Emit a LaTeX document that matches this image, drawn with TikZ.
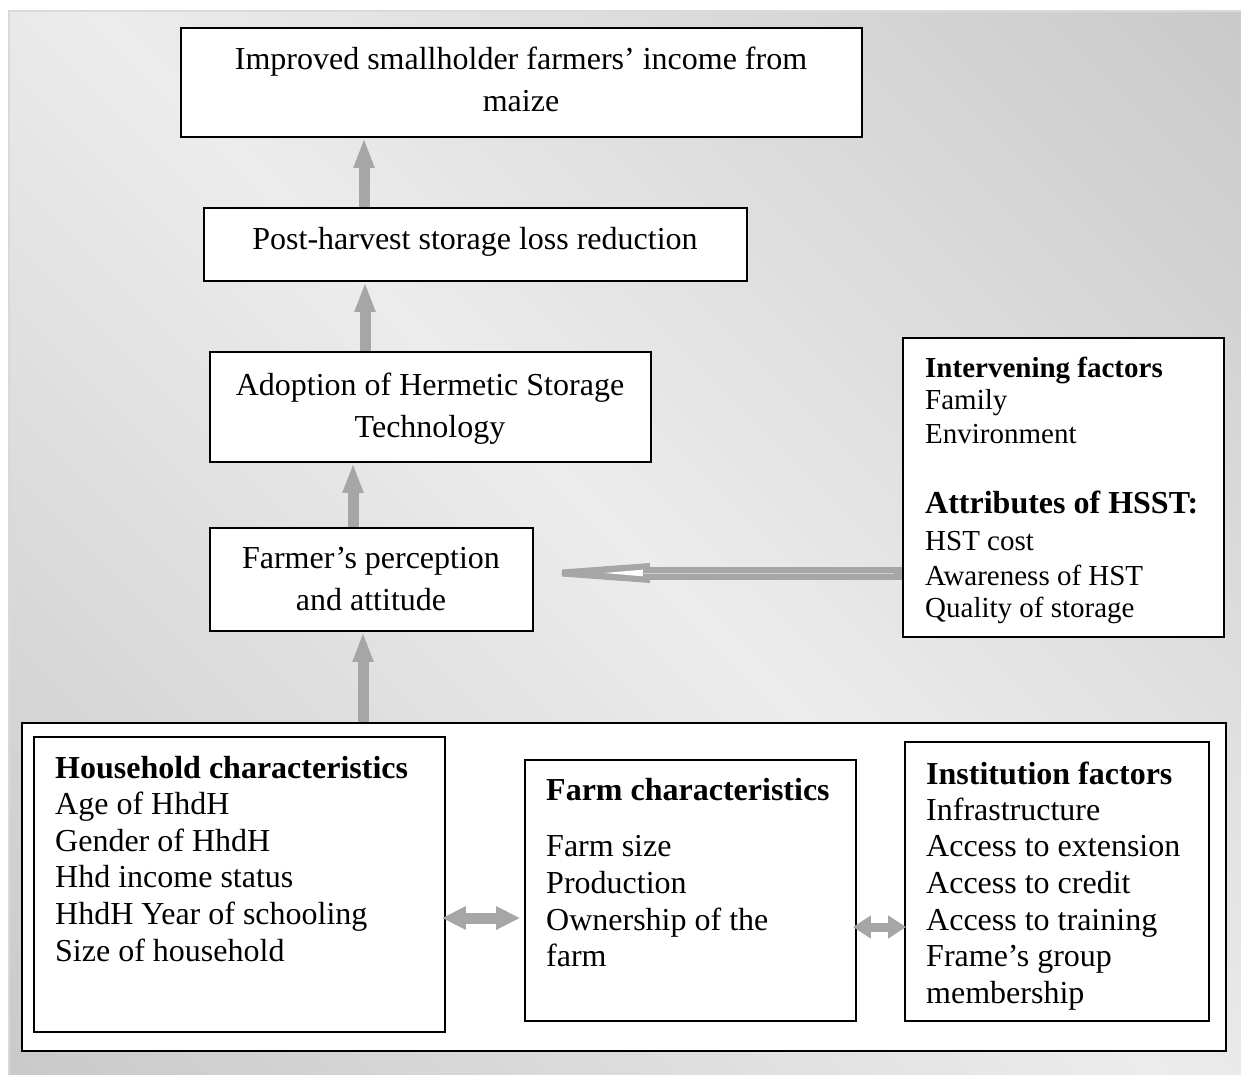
\documentclass[tikz,border=0pt]{standalone}
\usepackage{fontspec}
\setmainfont{Liberation Serif}
\usetikzlibrary{arrows.meta,calc}
\definecolor{bgdark}{HTML}{C9C9C9}
\definecolor{bglight}{HTML}{ECECEC}
\definecolor{arr}{HTML}{A6A6A6}
\pgfdeclarehorizontalshading{bgsh}{100bp}{color(0bp)=(bgdark); color(14bp)=(bgdark); color(50bp)=(bglight); color(86bp)=(bgdark); color(100bp)=(bgdark)}
\begin{document}
\begin{tikzpicture}[x=1pt,y=-1pt,
  box/.style={draw=black,line width=1.8pt,fill=white,inner sep=0pt},
  txt/.style={anchor=base west,inner sep=0pt,font=\fontsize{32}{37}\selectfont},
  ctxt/.style={anchor=base,inner sep=0pt,font=\fontsize{32}{37}\selectfont},
  stxt/.style={anchor=base west,inner sep=0pt,font=\fontsize{29}{34}\selectfont},
  uparr/.style={draw=arr,line width=11pt,-{Triangle[length=30pt,width=19pt]}},
  dblarr/.style={draw=arr,line width=11pt,{Triangle[length=24pt,width=22pt]}-{Triangle[length=24pt,width=22pt]}},
  dblarrs/.style={draw=arr,line width=9pt,{Triangle[length=18pt,width=22pt]}-{Triangle[length=18pt,width=22pt]}}
]
\useasboundingbox (0,0) rectangle (1241,1075);
% background
\shade[shading=bgsh,shading angle=45] (9,11) rectangle (1241,1075);
\draw[gray!30,line width=1.5pt] (1241,11) -- (9,11) -- (9,1075);

% boxes
\node[box,minimum width=681pt,minimum height=109pt] (top) at (521.5,82.5) {};
\node[box,minimum width=543pt,minimum height=73pt] (post) at (475.5,244.5) {};
\node[box,minimum width=441pt,minimum height=110pt] (adopt) at (430.5,407) {};
\node[box,minimum width=323pt,minimum height=103pt] (farmer) at (371.5,579.5) {};
\node[box,minimum width=321pt,minimum height=299pt] (interv) at (1063.5,487.5) {};
\node[box,minimum width=1204pt,minimum height=328pt] (outer) at (624,887) {};
\node[box,minimum width=411pt,minimum height=295pt] (house) at (239.5,884.5) {};
\node[box,minimum width=331pt,minimum height=261pt] (farm) at (690.5,890.5) {};
\node[box,minimum width=304pt,minimum height=279pt] (inst) at (1057,881.5) {};

% texts
\node[ctxt] (t1a) at (521,70) {Improved smallholder farmers’ income from};
\node[ctxt] (t1b) at (521,112) {maize};
\node[ctxt] (t2) at (475,250) {Post-harvest storage loss reduction};
\node[ctxt] (t3a) at (430,395) {Adoption of Hermetic Storage};
\node[ctxt] (t3b) at (430,437) {Technology};
\node[ctxt] (t4a) at (371,568) {Farmer’s perception};
\node[ctxt] (t4b) at (371,610) {and attitude};

\node[stxt,font=\fontsize{29}{34}\selectfont\bfseries] (i1) at (925,377) {Intervening factors};
\node[stxt] (i2) at (925,409) {Family};
\node[stxt] (i3) at (925,443) {Environment};
\node[txt,font=\fontsize{32}{37}\selectfont\bfseries] (i4) at (925,513) {Attributes of HSST:};
\node[stxt] (i5) at (925,550) {HST cost};
\node[stxt] (i6) at (925,585) {Awareness of HST};
\node[stxt] (i7) at (925,617) {Quality of storage};

\node[txt,font=\fontsize{32}{37}\selectfont\bfseries] (h1) at (55,778) {Household characteristics};
\node[txt] (h2) at (55,814.6) {Age of HhdH};
\node[txt] (h3) at (55,851.2) {Gender of HhdH};
\node[txt] (h4) at (55,887.8) {Hhd income status};
\node[txt] (h5) at (55,924.4) {HhdH Year of schooling};
\node[txt] (h6) at (55,961) {Size of household};

\node[txt,font=\fontsize{32}{37}\selectfont\bfseries] (f1) at (546,800) {Farm characteristics};
\node[txt] (f2) at (546,856.5) {Farm size};
\node[txt] (f3) at (546,893) {Production};
\node[txt] (f4) at (546,930) {Ownership of the};
\node[txt] (f5) at (546,966.5) {farm};

\node[txt,font=\fontsize{32}{37}\selectfont\bfseries] (n1) at (926,784) {Institution factors};
\node[txt] (n2) at (926,820) {Infrastructure};
\node[txt] (n3) at (926,856.5) {Access to extension};
\node[txt] (n4) at (926,893) {Access to credit};
\node[txt] (n5) at (926,930) {Access to training};
\node[txt] (n6) at (926,966.5) {Frame’s group};
\node[txt] (n7) at (926,1003.5) {membership};

% vertical arrows
\coordinate (xa1) at (364,0);
\coordinate (xa2) at (365,0);
\coordinate (xa3) at (353,0);
\coordinate (xa4) at (363,0);
\draw[uparr] (post.north -| xa1) -- (top.south -| xa1);
\draw[uparr] (adopt.north -| xa2) -- (post.south -| xa2);
\draw[uparr] (farmer.north -| xa3) -- (adopt.south -| xa3);
\draw[uparr] (outer.north -| xa4) -- (farmer.south -| xa4);

% double arrows
\coordinate (yd1) at (0,918);
\coordinate (yd2) at (0,927);
\draw[dblarr] ($(house.east |- yd1)+(-4,0)$) -- ($(farm.west |- yd1)+(-4,0)$);
\draw[dblarrs] ($(farm.east |- yd2)+(-4,0)$) -- ($(inst.west |- yd2)+(2,0)$);

% hollow arrow from intervening factors to perception
\coordinate (yh) at (0,573);
\coordinate (S) at (interv.west |- yh);
\coordinate (T) at ($(farmer.east |- yh)+(28,0)$);
\fill[arr] ($(T)+(87,-6.5)$) rectangle ($(S)+(0,6.5)$);
\fill[arr] ($(T)+(88,-10)$) -- ($(T)+(88,10)$) -- ($(T)+(0,3.5)$) -- ($(T)+(0,-3.5)$) -- cycle;
\fill[white] ($(T)+(81,-3.3)$) -- ($(T)+(81,3.3)$) -- ($(T)+(42,0)$) -- cycle;
\draw[arr!55!white,line width=0.5pt] ($(T)+(80,0)$) -- ($(S)+(-8,0)$);
\end{tikzpicture}
\end{document}
